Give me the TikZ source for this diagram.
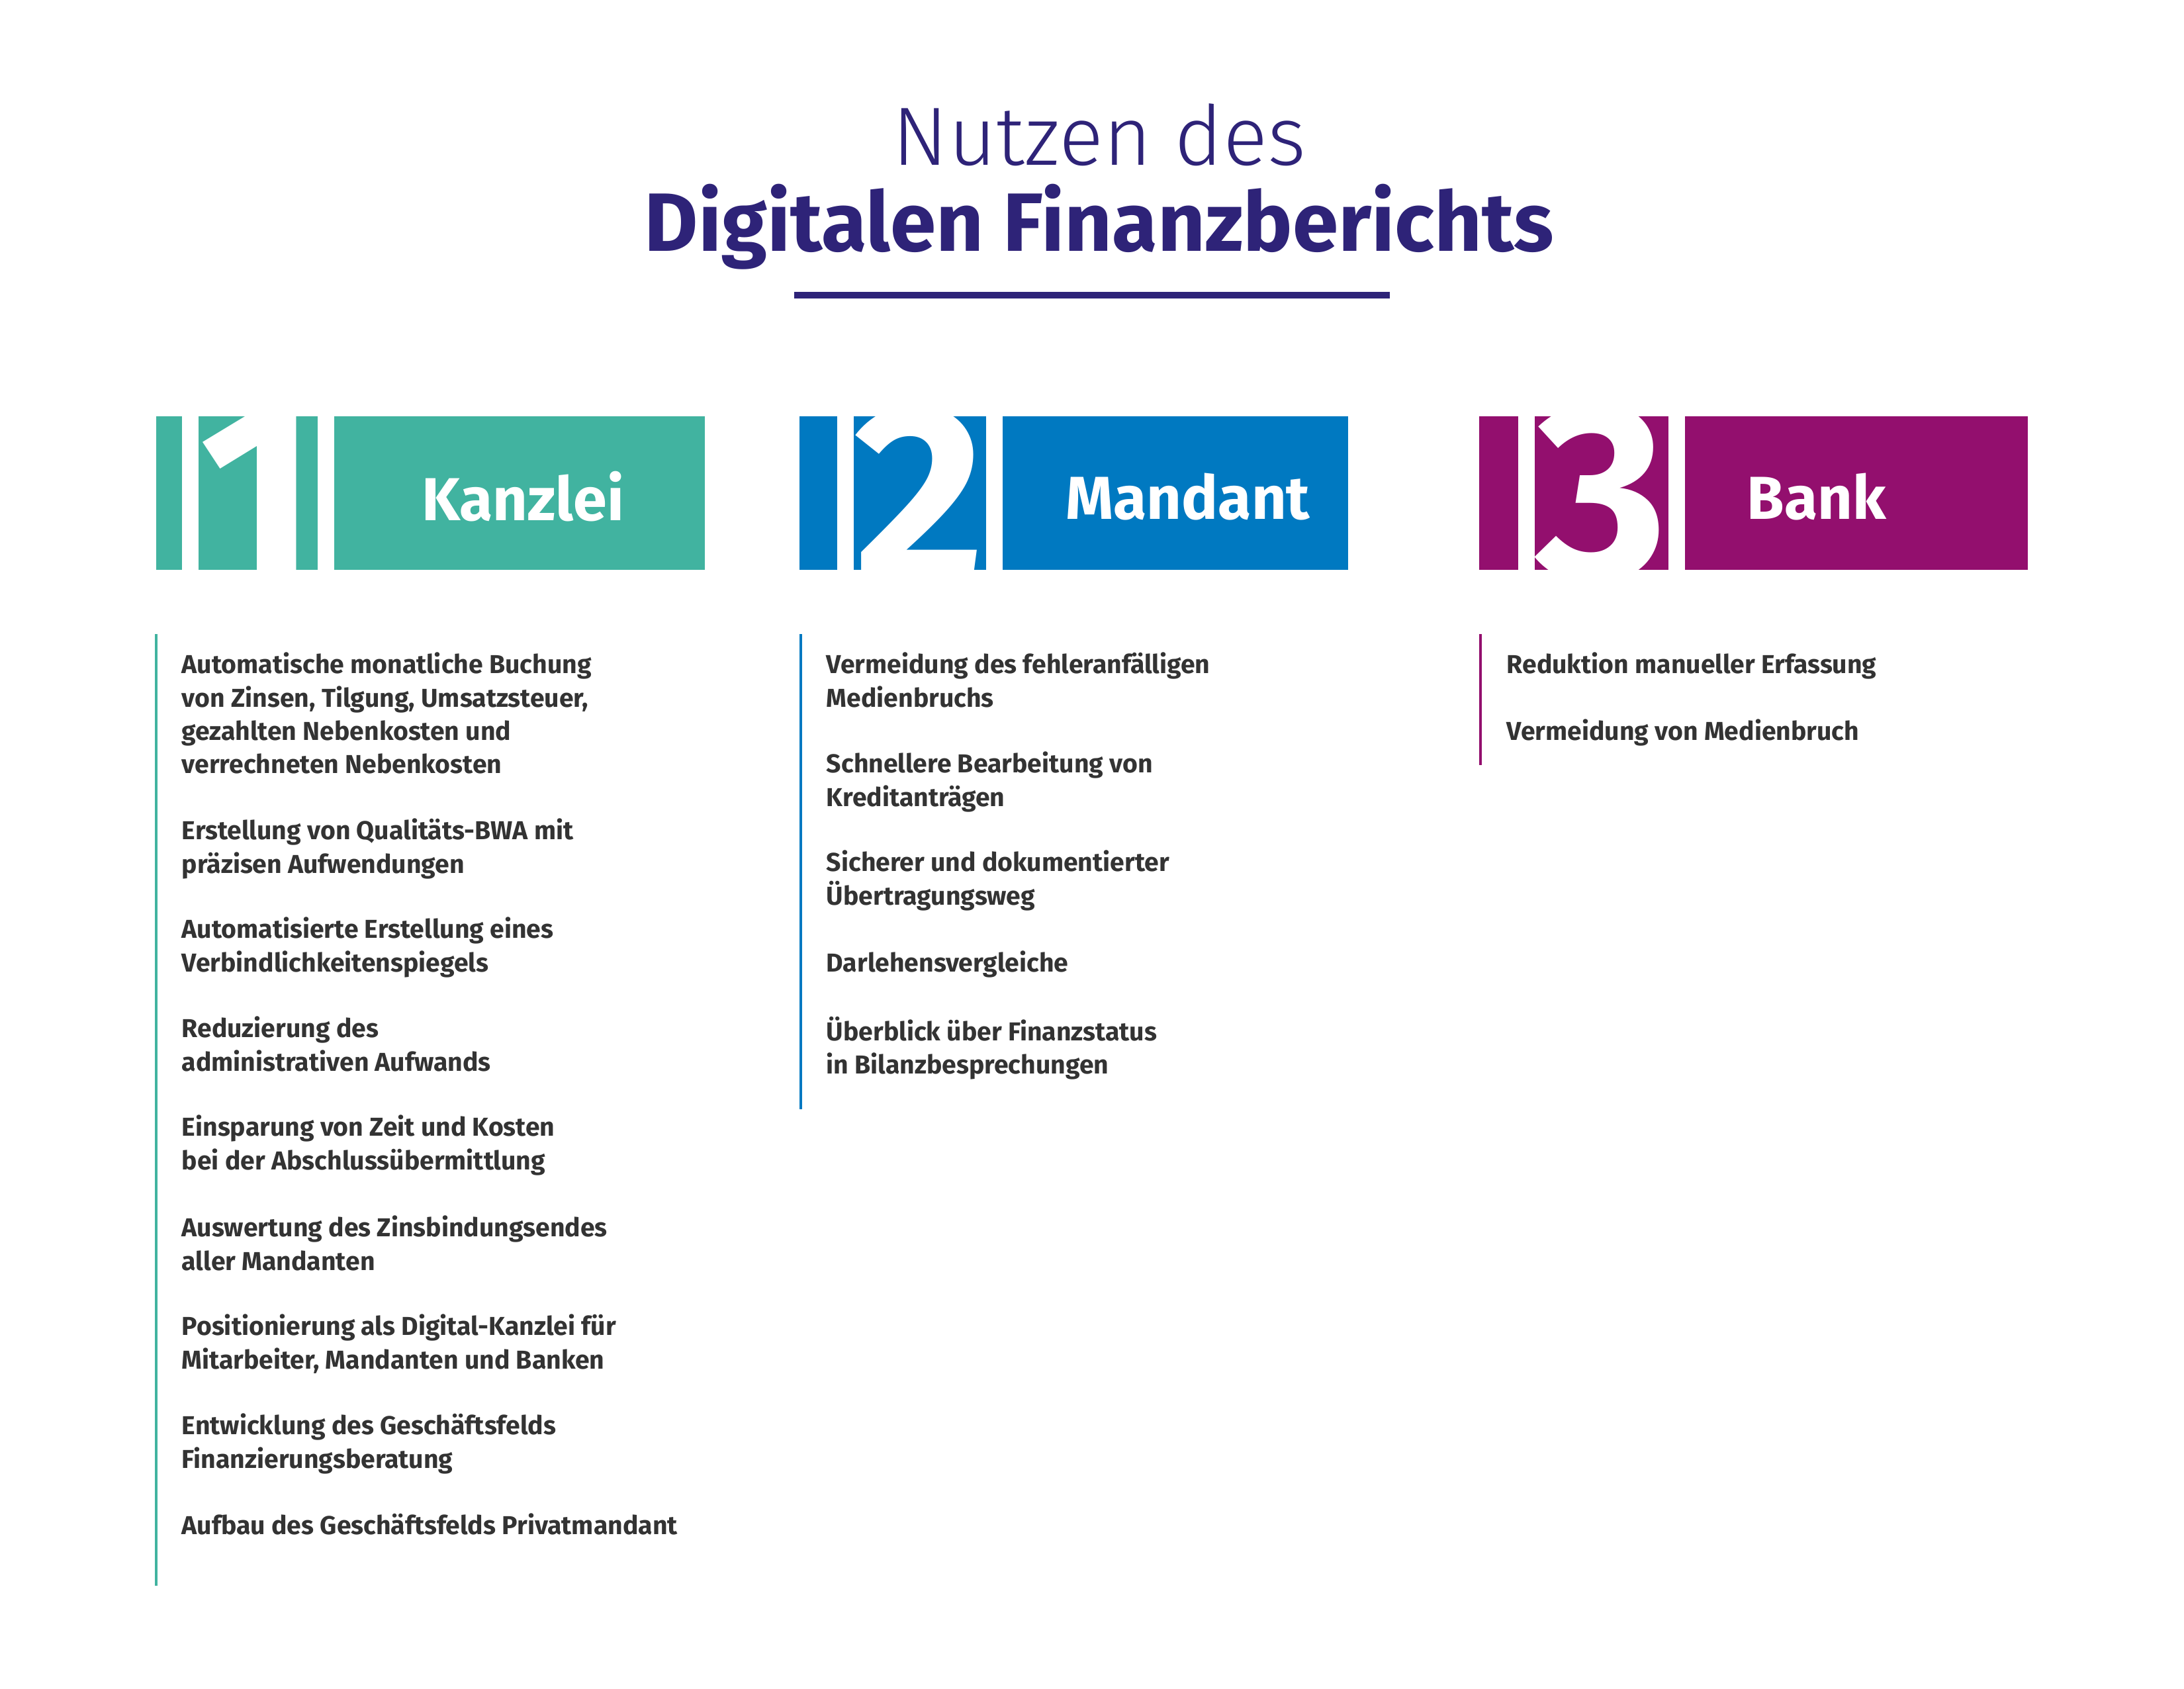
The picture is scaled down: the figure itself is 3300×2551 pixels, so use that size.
\documentclass[tikz,border=0pt]{standalone}
\usepackage{fontspec}
\setmainfont{Fira Sans}
\newfontfamily\lightfont{Fira Sans Light}
\definecolor{cteal}{HTML}{41B3A0}
\definecolor{cblue}{HTML}{0079C1}
\definecolor{cpurp}{HTML}{930F6E}
\definecolor{cnavy}{HTML}{2E2378}
\definecolor{ctext}{HTML}{333333}
\begin{document}
\begin{tikzpicture}[x=0.24pt,y=-0.24pt,
  item/.style={anchor=north west,align=left,inner sep=0pt,text=ctext,font=\fontsize{9.4}{12.1}\selectfont\bfseries},
  boxlbl/.style={text=white,font=\fontsize{22}{24}\selectfont\bfseries},
  digit/.style={text=white,font=\fontsize{92}{92}\selectfont\bfseries}]
\useasboundingbox (0,0) rectangle (3300,2551);
\node[text=cnavy,font=\lightfont\fontsize{30}{32}\selectfont] (t1) at (1661,204) {Nutzen des};
\node[text=cnavy,font=\fontsize{30}{32}\selectfont\bfseries] (t2) at (1661,343) {Digitalen Finanzberichts};
\draw[cnavy,line width=2.2pt] (1200,446) -- (2100,446);
% boxes
\foreach \x/\c/\d/\dx/\lbl/\lx in {236/cteal/1/390/Kanzlei/790, 1208/cblue/2/1390/Mandant/1795, 2235/cpurp/3/2420/Bank/2745}{
  \fill[\c] (\x,629) rectangle ++(829,232);
  \begin{scope}
    \clip (\x,629) rectangle ++(829,232);
    \node[digit,draw=white,line width=6pt] at (\dx,745) {\d};
  \end{scope}
  \node[boxlbl] at (\lx,750) {\lbl};
}
% lines
\draw[cteal,line width=1.1pt] (236,958) -- (236,2396);
\draw[cblue,line width=1.1pt] (1210,958) -- (1210,1676);
\draw[cpurp,line width=1.1pt] (2237,958) -- (2237,1156);
% column 1
\foreach \y/\t in {985/{Automatische monatliche Buchung\\von Zinsen, Tilgung, Umsatzsteuer,\\gezahlten Nebenkosten und\\verrechneten Nebenkosten},
 1236/{Erstellung von Qualitäts-BWA mit\\präzisen Aufwendungen},
 1385/{Automatisierte Erstellung eines\\Verbindlichkeitenspiegels},
 1535/{Reduzierung des\\administrativen Aufwands},
 1684/{Einsparung von Zeit und Kosten\\bei der Abschlussübermittlung},
 1836/{Auswertung des Zinsbindungsendes\\aller Mandanten},
 1985/{Positionierung als Digital-Kanzlei für\\Mitarbeiter, Mandanten und Banken},
 2135/{Entwicklung des Geschäftsfelds\\Finanzierungsberatung},
 2286/{Aufbau des Geschäftsfelds Privatmandant}}
 {\node[item] at (274,\y) {\t};}
\foreach \y/\t in {985/{Vermeidung des fehleranfälligen\\Medienbruchs},
 1135/{Schnellere Bearbeitung von\\Kreditanträgen},
 1284/{Sicherer und dokumentierter\\Übertragungsweg},
 1436/{Darlehensvergleiche},
 1535/{Überblick über Finanzstatus\\in Bilanzbesprechungen}}
 {\node[item] at (1248,\y) {\t};}
\foreach \y/\t in {985/{Reduktion manueller Erfassung},
 1086/{Vermeidung von Medienbruch}}
 {\node[item] at (2276,\y) {\t};}
\end{tikzpicture}
\end{document}
